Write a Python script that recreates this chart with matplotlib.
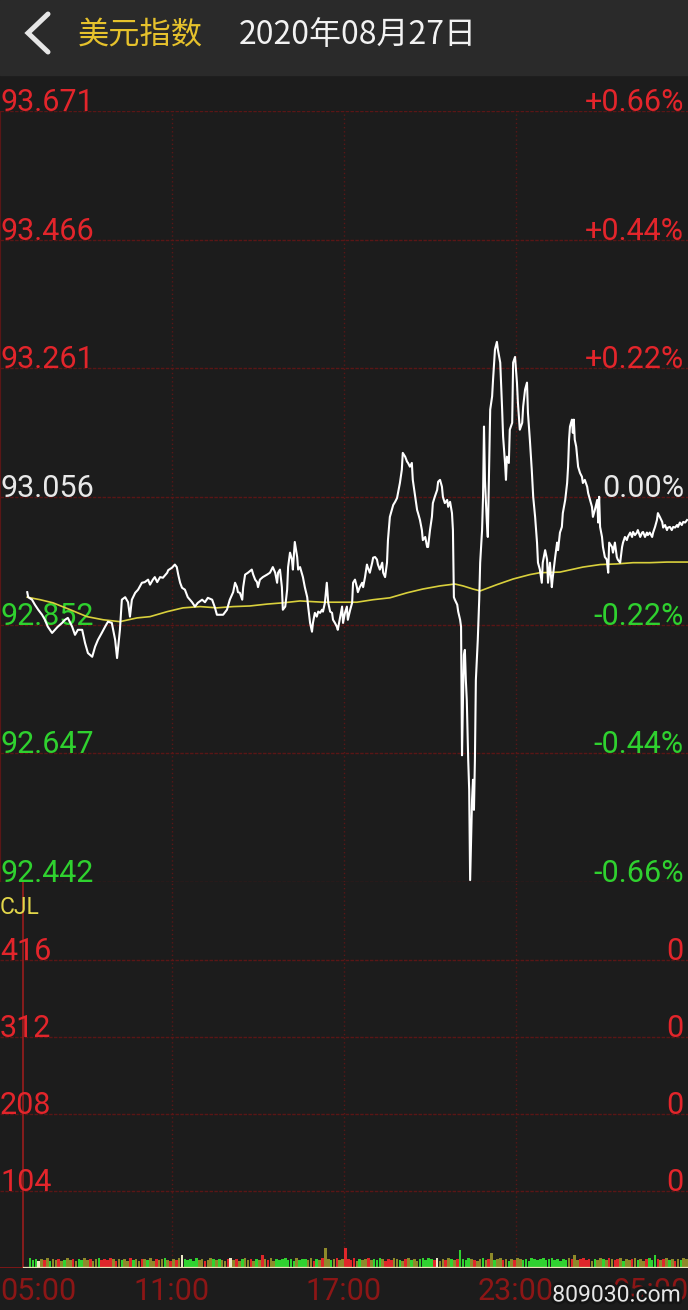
import matplotlib
matplotlib.use("Agg")
import matplotlib.pyplot as plt
import matplotlib.patheffects as pe
from matplotlib.lines import Line2D
from matplotlib.patches import Rectangle

# ---- 数据 ----
# 分时线: 距 05:00 的分钟数 / 价格
minutes = [
    57, 59, 67, 73, 80, 88, 94, 100, 109, 115, 121, 130, 136, 142, 151, 157, 163, 172, 178, 184,
    193, 199, 205, 213, 220, 226, 234, 241, 245, 251, 255, 262, 268, 272, 276, 283, 289, 297, 303, 310,
    314, 320, 324, 329, 335, 341, 350, 352, 360, 366, 370, 373, 377, 381, 387, 393, 402, 408, 414, 423,
    429, 435, 444, 450, 454, 460, 467, 475, 481, 488, 492, 496, 498, 502, 507, 509, 513, 519, 527, 530,
    534, 538, 540, 544, 550, 559, 565, 571, 576, 580, 582, 586, 590, 592, 597, 601, 603, 607, 611, 613,
    617, 622, 624, 628, 634, 638, 643, 645, 649, 653, 655, 659, 663, 666, 670, 674, 676, 680, 684, 687,
    691, 695, 697, 701, 705, 707, 712, 716, 718, 722, 726, 728, 733, 737, 739, 743, 747, 749, 753, 758,
    760, 764, 768, 770, 774, 779, 781, 785, 789, 791, 795, 800, 802, 806, 810, 812, 816, 820, 823, 827,
    831, 833, 837, 841, 843, 848, 852, 854, 858, 862, 864, 869, 873, 875, 879, 883, 885, 890, 894, 896,
    900, 904, 906, 910, 915, 917, 921, 925, 927, 931, 936, 938, 942, 946, 948, 950, 952, 957, 959, 963,
    965, 967, 969, 971, 973, 975, 977, 980, 982, 984, 986, 988, 990, 992, 994, 996, 998, 1000, 1003, 1005,
    1009, 1011, 1013, 1015, 1019, 1021, 1026, 1030, 1032, 1036, 1040, 1042, 1047, 1051, 1053, 1057, 1059, 1061, 1065, 1067,
    1072, 1074, 1078, 1082, 1084, 1088, 1093, 1095, 1099, 1103, 1105, 1109, 1113, 1116, 1120, 1124, 1126, 1130, 1134, 1136,
    1141, 1145, 1147, 1151, 1155, 1157, 1162, 1166, 1168, 1172, 1176, 1178, 1183, 1187, 1189, 1191, 1193, 1197, 1199, 1201,
    1203, 1206, 1208, 1210, 1214, 1218, 1220, 1224, 1229, 1231, 1235, 1239, 1241, 1245, 1250, 1252, 1254, 1256, 1260, 1262,
    1266, 1270, 1273, 1275, 1281, 1283, 1287, 1291, 1293, 1298, 1302, 1304, 1308, 1312, 1314, 1319, 1323, 1325, 1329, 1333,
    1335, 1340, 1344, 1346, 1350, 1354, 1356, 1360, 1365, 1367, 1371, 1375, 1377, 1381, 1386, 1388, 1392, 1396, 1398, 1402,
    1406, 1409, 1413, 1417, 1419, 1423, 1427, 1430, 1434, 1438,
]
prices = [
    92.904, 92.896, 92.892, 92.884, 92.876, 92.868, 92.860, 92.849, 92.839, 92.844, 92.849, 92.855, 92.860, 92.863, 92.849, 92.836, 92.844, 92.844, 92.823, 92.807,
    92.801, 92.817, 92.828, 92.839, 92.849, 92.857, 92.855, 92.828, 92.799, 92.844, 92.892, 92.896, 92.888, 92.865, 92.892, 92.903, 92.908, 92.919, 92.920, 92.924,
    92.916, 92.924, 92.928, 92.920, 92.928, 92.927, 92.935, 92.939, 92.943, 92.948, 92.944, 92.932, 92.919, 92.911, 92.908, 92.896, 92.888, 92.881, 92.887, 92.892,
    92.888, 92.895, 92.892, 92.879, 92.868, 92.868, 92.868, 92.876, 92.892, 92.904, 92.919, 92.912, 92.904, 92.903, 92.892, 92.912, 92.932, 92.935, 92.940, 92.932,
    92.924, 92.920, 92.912, 92.924, 92.928, 92.932, 92.935, 92.944, 92.935, 92.919, 92.935, 92.940, 92.912, 92.876, 92.881, 92.908, 92.944, 92.967, 92.956, 92.940,
    92.984, 92.960, 92.940, 92.944, 92.928, 92.912, 92.896, 92.881, 92.855, 92.841, 92.855, 92.871, 92.865, 92.873, 92.871, 92.876, 92.873, 92.887, 92.919, 92.887,
    92.873, 92.871, 92.860, 92.855, 92.849, 92.844, 92.865, 92.881, 92.855, 92.871, 92.881, 92.860, 92.876, 92.887, 92.919, 92.924, 92.912, 92.904, 92.912, 92.919,
    92.912, 92.928, 92.948, 92.943, 92.935, 92.951, 92.959, 92.960, 92.956, 92.948, 92.940, 92.951, 92.935, 92.928, 92.951, 92.987, 93.024, 93.035, 93.043, 93.048,
    93.054, 93.062, 93.078, 93.099, 93.126, 93.120, 93.112, 93.110, 93.104, 93.110, 93.083, 93.056, 93.035, 93.030, 93.019, 93.003, 92.987, 92.992, 92.976, 92.976,
    93.003, 93.024, 93.046, 93.056, 93.067, 93.080, 93.083, 93.072, 93.056, 93.046, 93.051, 93.040, 93.048, 93.030, 93.003, 92.896, 92.892, 92.884, 92.873, 92.860,
    92.849, 92.644, 92.732, 92.804, 92.812, 92.764, 92.732, 92.636, 92.589, 92.445, 92.509, 92.573, 92.605, 92.557, 92.636, 92.764, 92.796, 92.828, 92.892, 92.951,
    93.003, 93.056, 93.168, 93.083, 93.015, 92.992, 93.195, 93.216, 93.243, 93.291, 93.303, 93.291, 93.270, 93.195, 93.152, 93.110, 93.083, 93.120, 93.110, 93.163,
    93.174, 93.270, 93.279, 93.238, 93.206, 93.163, 93.174, 93.200, 93.227, 93.238, 93.190, 93.147, 93.099, 93.056, 93.024, 92.983, 92.951, 92.940, 92.919, 92.951,
    92.971, 92.956, 92.919, 92.951, 92.912, 92.928, 92.960, 92.983, 92.971, 92.999, 93.008, 93.030, 93.051, 93.078, 93.104, 93.147, 93.168, 93.179, 93.158, 93.179,
    93.147, 93.136, 93.120, 93.104, 93.094, 93.088, 93.078, 93.083, 93.072, 93.062, 93.051, 93.040, 93.024, 93.035, 93.051, 93.015, 93.056, 93.008, 92.992, 92.976,
    92.960, 92.956, 92.935, 92.983, 92.976, 92.967, 92.983, 92.960, 92.956, 92.951, 92.976, 92.983, 92.992, 92.987, 92.992, 92.999, 92.992, 93.000, 92.995, 92.999,
    93.003, 92.992, 92.999, 93.000, 92.992, 92.999, 92.995, 92.999, 92.992, 92.999, 93.008, 93.019, 93.030, 93.024, 93.016, 93.007, 93.011, 93.003, 93.007, 93.008,
    93.003, 93.008, 93.007, 93.011, 93.008, 93.015, 93.011, 93.016, 93.015, 93.019,
]

# 均价线
avg_minutes = [57, 84, 111, 147, 182, 216, 251, 287, 314, 350, 383, 419, 454, 488, 523, 559, 592, 628,
               676, 712, 747, 781, 816, 852, 885, 921, 952, 969, 990, 1005, 1040, 1074, 1109, 1130,
               1172, 1220, 1256, 1291, 1325, 1360, 1396, 1440]
avg_prices = [92.896, 92.892, 92.887, 92.876, 92.865, 92.860, 92.857, 92.863, 92.865, 92.873, 92.879,
              92.881, 92.879, 92.881, 92.882, 92.885, 92.887, 92.890, 92.888, 92.888, 92.888, 92.892,
              92.895, 92.903, 92.909, 92.914, 92.917, 92.914, 92.909, 92.906, 92.916, 92.925, 92.932,
              92.935, 92.936, 92.944, 92.948, 92.949, 92.951, 92.951, 92.952, 92.952]

price_levels = [93.671, 93.466, 93.261, 93.056, 92.852, 92.647, 92.442]
price_labels = ["93.671", "93.466", "93.261", "93.056", "92.852", "92.647", "92.442"]
pct_labels = ["+0.66%", "+0.44%", "+0.22%", "0.00%", "-0.22%", "-0.44%", "-0.66%"]
level_side = ["up", "up", "up", "flat", "down", "down", "down"]

vol_levels = [416, 312, 208, 104]
vol_labels = ["416", "312", "208", "104"]
vol_right_labels = ["0", "0", "0", "0"]

time_ticks = [0, 360, 720, 1080, 1440]
time_labels = ["05:00", "11:00", "17:00", "23:00", "05:00"]

# 成交量: 06:00 起每 6 分钟一根
vol_start = 60
vol_step = 6
volumes = [
    13, 11, 12, 10, 12, 11, 13, 10, 12, 11,
    12, 10, 11, 13, 11, 12, 10, 12, 11, 13,
    11, 12, 10, 12, 13, 11, 12, 11, 13, 12,
    10, 12, 11, 12, 10, 13, 11, 12, 10, 12,
    12, 11, 13, 10, 12, 11, 12, 13, 11, 10,
    12, 11, 13, 18, 12, 11, 12, 10, 13, 11,
    12, 10, 11, 13, 12, 11, 12, 11, 10, 12,
    13, 11, 12, 10, 12, 13, 11, 12, 10, 12,
    11, 18, 12, 11, 13, 10, 12, 11, 12, 13,
    11, 12, 10, 13, 11, 12, 12, 11, 13, 10,
    12, 11, 13, 27, 12, 11, 12, 13, 11, 12,
    27, 12, 11, 13, 10, 12, 11, 12, 13, 11,
    12, 11, 13, 12, 10, 12, 11, 13, 12, 11,
    10, 12, 13, 11, 12, 10, 12, 14, 11, 13,
    12, 11, 13, 10, 12, 11, 13, 12, 11, 12,
    24, 12, 11, 13, 12, 11, 10, 12, 13, 11,
    12, 20, 11, 12, 13, 11, 12, 10, 12, 11,
    13, 12, 11, 12, 10, 13, 12, 11, 12, 13,
    11, 12, 13, 11, 12, 10, 12, 11, 13, 12,
    18, 11, 12, 13, 11, 12, 10, 12, 11, 13,
    12, 11, 13, 12, 11, 12, 13, 10, 12, 11,
    12, 13, 11, 12, 10, 12, 13, 11, 18, 12,
    11, 12, 13, 11, 12, 10, 12, 11, 13, 12,
]
vol_kinds = "".join([
    "gggworogoo", "rogooroggo", "oroogrrrro", "rogoorgoor", "ogooroogor",
    "orowgggggo", "oroogogoor", "worogoorog", "ororoogggg", "gggogggoor",
    "goroogoroo", "rrrrogooro", "gggorrroog", "orogoogggg", "grwoorogor",
    "ggggoroogo", "rogoorogor", "oogggggggg", "ggggggggor", "oorrrrogoo",
    "gororrogoo", "rogoorgggr", "orogorogoo",
])

# ---- 样式 ----
W, H = 688, 1310
BG = "#1c1c1c"
HEADER_BG = "#2a2a2a"
GRID = "#5a1616"
RED = "#e3252b"
GREEN = "#2fd12f"
WHITE = "#e8e8e8"
YELLOW = "#e2d64a"
TIME_RED = "#8c1616"
SIDE_COLOR = {"up": RED, "flat": WHITE, "down": GREEN}
BAR_COLOR = {"r": "#e0262a", "g": "#30d230", "o": "#8e8a2a", "w": "#ece6c6"}
NUM_FONT = ["Roboto", "DejaVu Sans"]
CJK_FONT = ["Noto Sans CJK SC", "DejaVu Sans"]
LABEL_SIZE = 22


def fy(py):
    return 1 - py / H


fig = plt.figure(figsize=(W / 100, H / 100), dpi=100)
fig.patch.set_facecolor(BG)

# 顶部标题栏
fig.add_artist(Rectangle((0, fy(75)), 1, 75 / H, transform=fig.transFigure,
                         color=HEADER_BG, zorder=0))
fig.add_artist(Line2D([48 / W, 28 / W, 48 / W], [fy(14), fy(33), fy(52)],
                      transform=fig.transFigure, color="#e6e6e6", lw=3.6,
                      solid_capstyle="round", solid_joinstyle="miter"))
fig.text(78 / W, fy(35), "美元指数", color="#e6c22c", fontsize=22.5,
         family=CJK_FONT, ha="left", va="center")
fig.text(239 / W, fy(35), "2020年08月27日", color="#f2f2f2", fontsize=23,
         family=CJK_FONT, ha="left", va="center")

# 分时图
ax = fig.add_axes([0, fy(882), 1, (882 - 111) / H])
ax.set_facecolor("none")
ax.axis("off")
ax.set_xlim(0, 1440)
ax.set_ylim(price_levels[-1], price_levels[0])
for lv in price_levels:
    ax.axhline(lv, color=GRID, lw=1.0, ls=(0, (2.5, 1)), zorder=1)
for t in time_ticks[1:-1]:
    ax.axvline(t, color=GRID, lw=1.0, ls=(0, (1, 2)), zorder=1)
ax.axvline(0, color=GRID, lw=1.6, zorder=1)

ax.plot(avg_minutes, avg_prices, color="#d9d03c", lw=1.2, zorder=3)
ax.plot(minutes, prices, color="white", lw=1.5, zorder=4)

for lv, lab, pct, side in zip(price_levels, price_labels, pct_labels, level_side):
    c = SIDE_COLOR[side]
    ax.text(0.0, lv, lab, transform=ax.get_yaxis_transform(), color=c,
            fontsize=LABEL_SIZE, family=NUM_FONT, ha="left", va="baseline", clip_on=False, zorder=2)
    ax.text(684 / W, lv, pct, transform=ax.get_yaxis_transform(), color=c,
            fontsize=LABEL_SIZE, family=NUM_FONT, ha="right", va="baseline", clip_on=False, zorder=2)

# 成交量
vol_top = vol_levels[0] * (1268 - 882) / (1268 - 960)
ax2 = fig.add_axes([0, fy(1268), 1, (1268 - 882) / H])
ax2.set_facecolor("none")
ax2.axis("off")
ax2.set_xlim(0, 1440)
ax2.set_ylim(0, vol_top)
for lv in vol_levels:
    ax2.axhline(lv, color=GRID, lw=1.0, ls=(0, (2.5, 1)), zorder=1)
for t in time_ticks[1:-1]:
    ax2.axvline(t, color=GRID, lw=1.0, ls=(0, (1, 2)), zorder=1)
ax2.axhline(0, color=TIME_RED, lw=1.2, zorder=1)
ax2.axvline(48, color="#9a1c1c", lw=1.2, zorder=2)

bar_x = [vol_start + vol_step * i + vol_step / 2 for i in range(len(volumes))]
bar_c = [BAR_COLOR[k] for k in vol_kinds[:len(volumes)]]
ax2.bar(bar_x, volumes, width=vol_step * 0.9, color=bar_c, linewidth=0, zorder=3)
ax2.plot([vol_start - 10, 1440], [0, 0], color="#ece4b8", lw=1.6, zorder=4)

for lv, lab, rlab in zip(vol_levels, vol_labels, vol_right_labels):
    ax2.text(0.0, lv, lab, transform=ax2.get_yaxis_transform(), color=RED,
             fontsize=LABEL_SIZE, family=NUM_FONT, ha="left", va="baseline", clip_on=False)
    ax2.text(684 / W, lv, rlab, transform=ax2.get_yaxis_transform(), color=RED,
             fontsize=LABEL_SIZE, family=NUM_FONT, ha="right", va="baseline", clip_on=False)

fig.text(0.0, fy(908), "CJL", color=YELLOW, fontsize=16.5, family=NUM_FONT,
         ha="left", va="center")

# 时间轴
for i, (t, lab) in enumerate(zip(time_ticks, time_labels)):
    ha = "left" if i == 0 else ("right" if i == len(time_ticks) - 1 else "center")
    ax2.text(t, -(1292 - 1268) / (1268 - 882), lab, transform=ax2.get_xaxis_transform(),
             color=TIME_RED, fontsize=LABEL_SIZE, family=NUM_FONT, ha=ha, va="center", clip_on=False)

# 水印
fig.text(680 / W, fy(1295), "809030.com", color="#e6e6e6", fontsize=16.5, family=NUM_FONT,
         ha="right", va="center",
         path_effects=[pe.withStroke(linewidth=4, foreground="#151515")])

fig.savefig("out.png", dpi=100, facecolor=fig.get_facecolor())
